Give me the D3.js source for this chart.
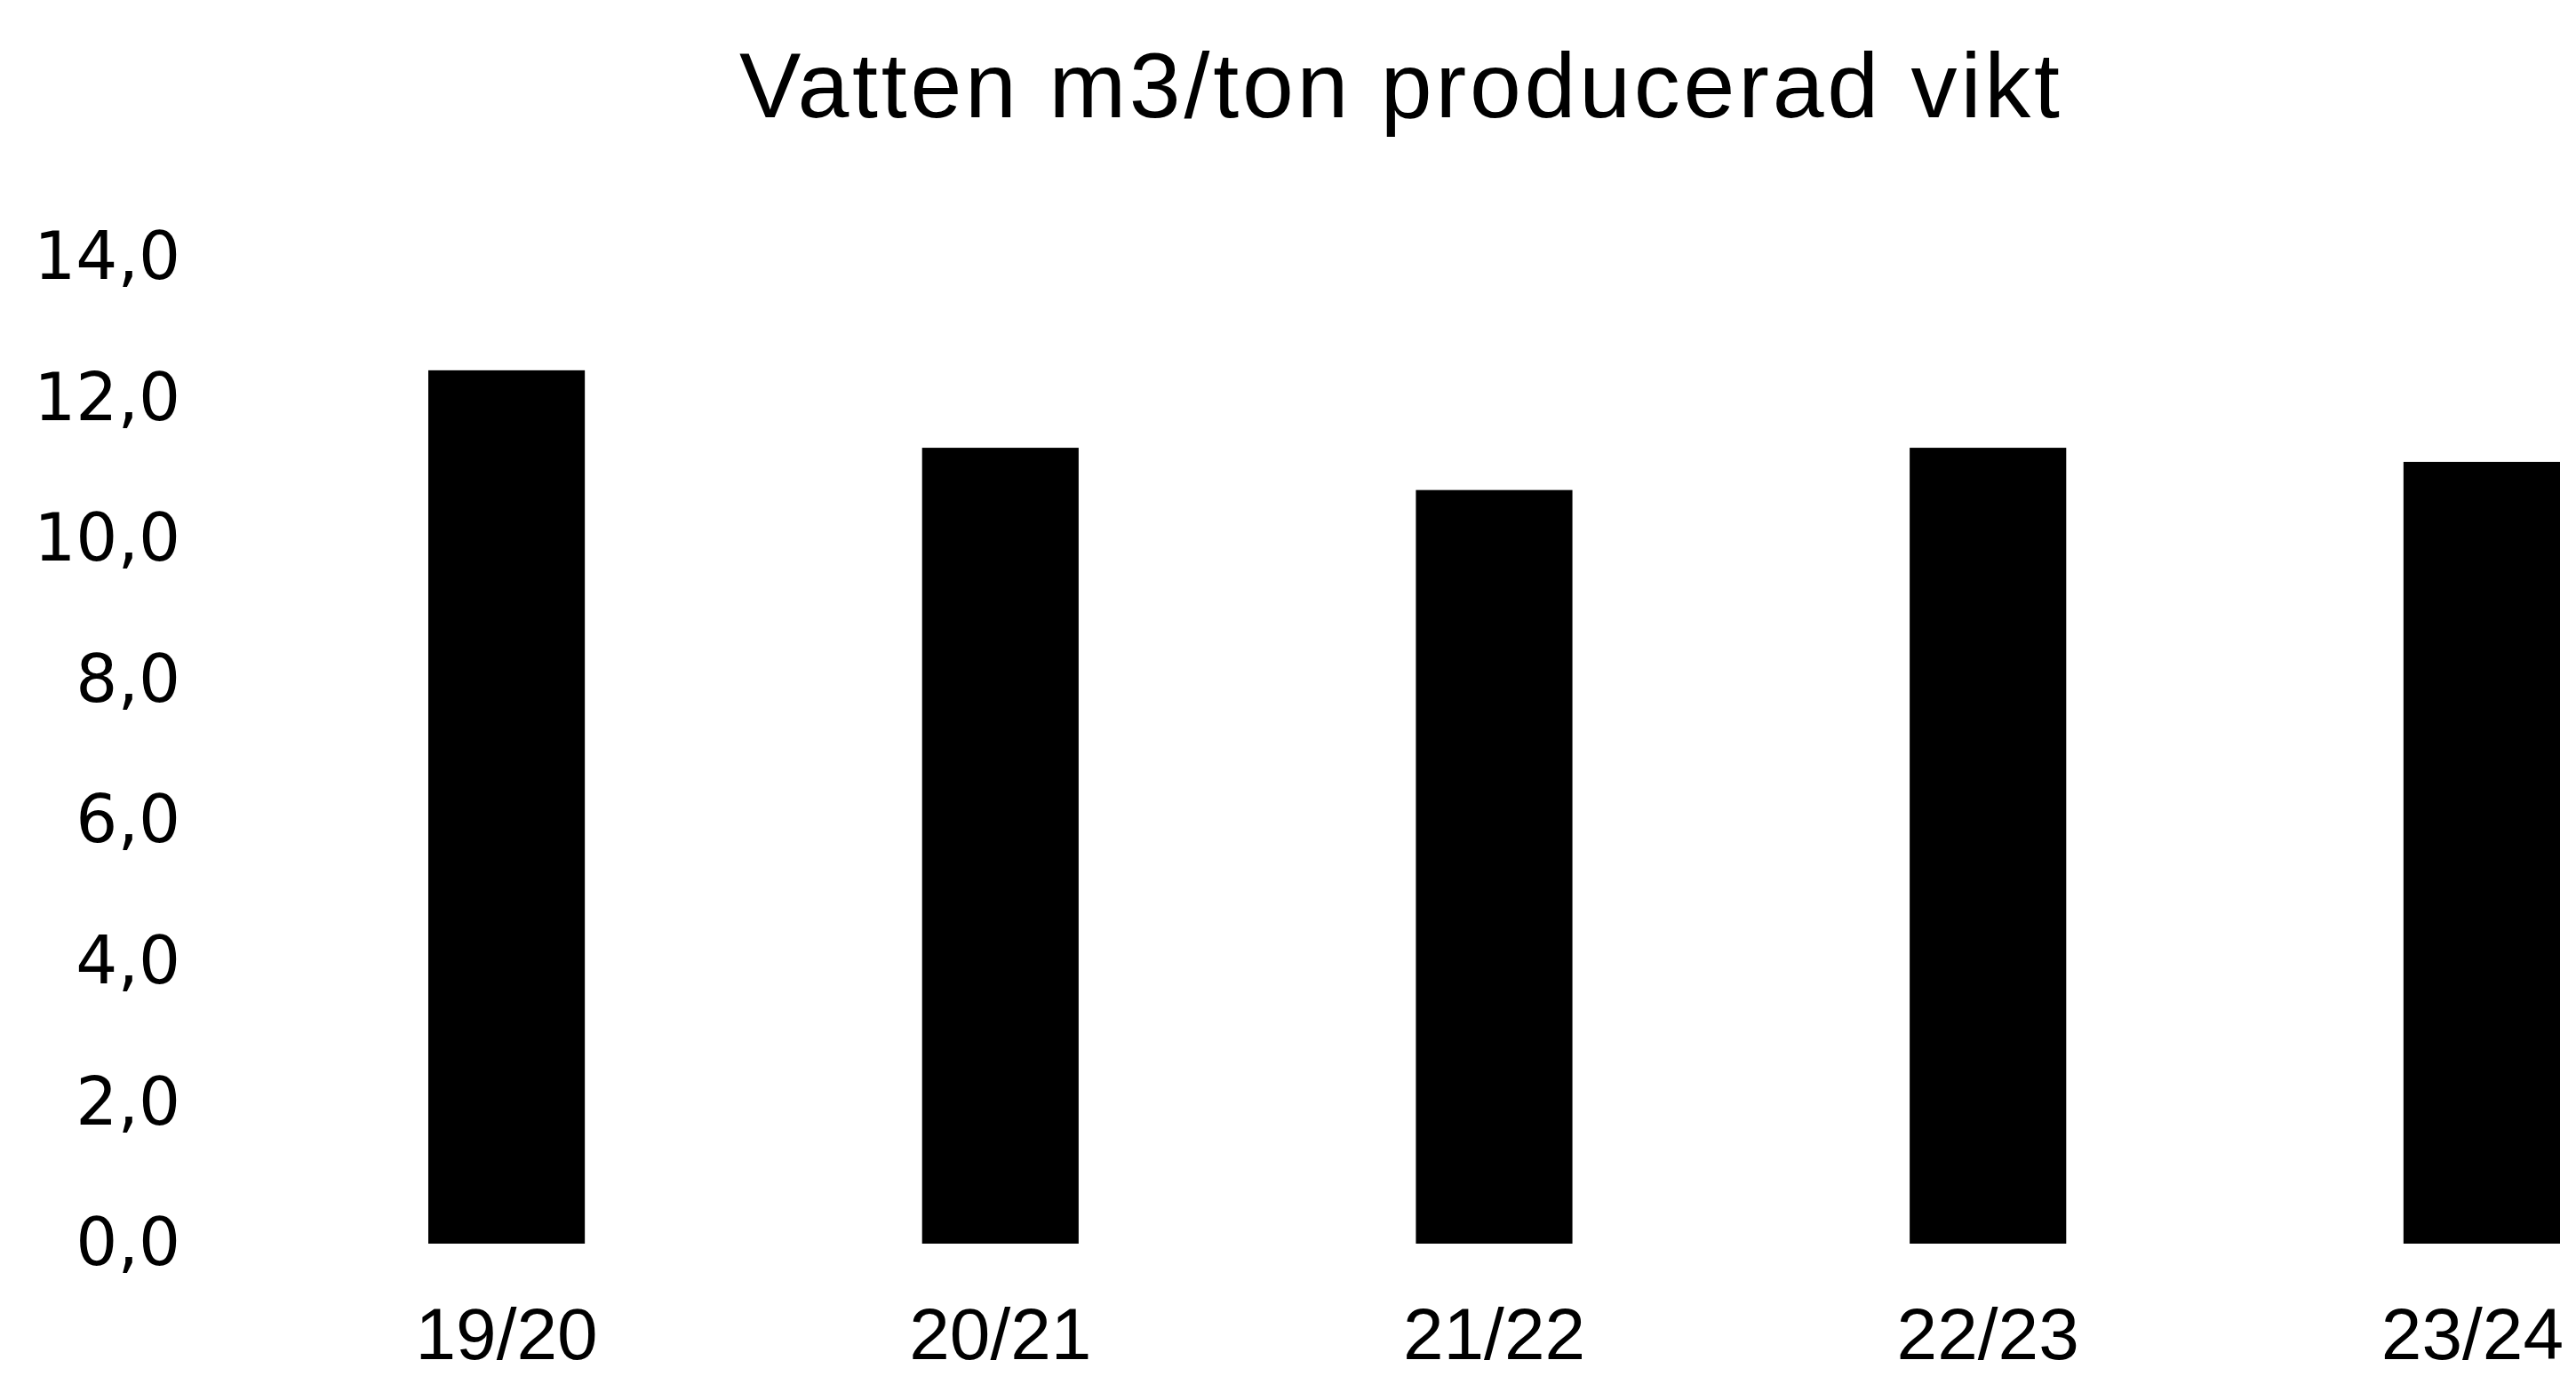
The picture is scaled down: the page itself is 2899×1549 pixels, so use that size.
<!DOCTYPE html>
<html>
<head>
<meta charset="utf-8">
<script src="https://cdn.jsdelivr.net/npm/d3@7"></script>
<style>
  html, body { margin: 0; padding: 0; background: #fff; }
  svg { display: block; }
</style>
</head>
<body>
<div id="chart"></div>
<script>
// data
const categories = ["19/20", "20/21", "21/22", "22/23", "23/24"];
const values = [12.4, 11.3, 10.7, 11.3, 11.1];
const yTicks = [0, 2, 4, 6, 8, 10, 12, 14];
const title = "Vatten m3/ton producerad vikt";

const W = 2899, H = 1549;

const svg = d3.select("#chart")
  .append("svg")
  .attr("width", W)
  .attr("height", H);

svg.append("rect")
  .attr("width", W)
  .attr("height", H)
  .attr("fill", "#fff");

const x = d3.scaleBand()
  .domain(categories)
  .range([482, 2881])
  .paddingInner(0.683)
  .paddingOuter(0);

const y = d3.scaleLinear()
  .domain([0, 14])
  .range([1400, 290]);

// swedish style decimal comma
const sv = d3.formatLocale({ decimal: ",", thousands: " ", grouping: [3], currency: ["", " kr"] });
const fmt = sv.format(".1f");

// title
svg.append("text")
  .attr("x", 832)
  .attr("y", 132)
  .attr("textLength", 1486)
  .attr("lengthAdjust", "spacing")
  .style("font-family", "'Liberation Sans', Arial, sans-serif")
  .style("font-size", "104px")
  .attr("fill", "#000")
  .text(title);

// y axis, labels only
const yAxis = svg.append("g")
  .attr("transform", "translate(203,0)")
  .call(d3.axisLeft(y).tickValues(yTicks).tickFormat(fmt).tickSize(0).tickPadding(0));

yAxis.select(".domain").remove();
yAxis.selectAll("text")
  .style("font-family", "'DejaVu Sans', Verdana, sans-serif")
  .style("font-size", "74px")
  .attr("fill", "#000");

// bars
svg.append("g")
  .selectAll("rect")
  .data(values)
  .join("rect")
  .attr("x", (d, i) => x(categories[i]))
  .attr("y", d => y(d))
  .attr("width", x.bandwidth())
  .attr("height", d => y(0) - y(d))
  .attr("fill", "#000");

// x axis, labels only
const xAxis = svg.append("g")
  .attr("transform", "translate(0,1400)")
  .call(d3.axisBottom(x).tickSize(0).tickPadding(0));

xAxis.select(".domain").remove();
xAxis.selectAll("text")
  .attr("dy", null)
  .attr("y", 130)
  .style("font-family", "'Liberation Sans', Arial, sans-serif")
  .style("font-size", "82px")
  .attr("fill", "#000");

// keep the last label inside the right edge, like the original
xAxis.selectAll(".tick").each(function () {
  const t = d3.select(this).select("text");
  const b = this.getBBox();
  const tx = x(d3.select(this).datum()) + x.bandwidth() / 2;
  const right = tx + b.x + b.width;
  if (right > W - 14) t.attr("x", (W - 14) - right);
});
</script>
</body>
</html>
